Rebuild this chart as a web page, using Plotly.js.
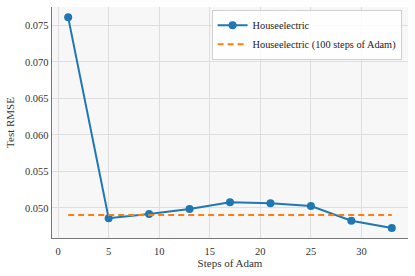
<!DOCTYPE html>
<html>
<head>
<meta charset="utf-8">
<script src="https://cdn.plot.ly/plotly-3.0.1.min.js"></script>
<style>html,body{margin:0;padding:0;background:#fff;}#chart{width:415px;height:276px;}</style>
</head>
<body>
<div id="chart"></div>
<script>
const steps = [1, 5, 9, 13, 17, 21, 25, 29, 33];
const rmse = [0.0761, 0.04859, 0.04918, 0.04986, 0.05078, 0.05064, 0.05027, 0.04826, 0.04726];
const baselineX = [1, 33];
const baselineY = [0.04904, 0.04904];
const seriesNames = ["Houseelectric", "Houseelectric (100 steps of Adam)"];
const xTicks = [0, 5, 10, 15, 20, 25, 30];
const yTicks = [0.050, 0.055, 0.060, 0.065, 0.070, 0.075];

const fam = "Liberation Serif, DejaVu Serif, serif";
const xRange = [-0.6, 34.6];
const yRange = [0.04589, 0.07752];

const traces = [
  {x: steps, y: rmse, name: seriesNames[0], mode: "lines+markers",
   line: {color: "#1f77b4", width: 2}, marker: {color: "#1f77b4", size: 8}},
  {x: baselineX, y: baselineY, name: seriesNames[1], mode: "lines",
   line: {color: "#ff7f0e", width: 2.2, dash: "6px,4px"}}
];

const layout = {
  width: 415, height: 276,
  margin: {l: 52, r: 7, t: 7, b: 38},
  paper_bgcolor: "#ffffff",
  plot_bgcolor: "#f7f7f7",
  font: {family: fam, size: 10.5, color: "#333"},
  showlegend: true,
  legend: {x: 0.982, y: 0.988, xanchor: "right", yanchor: "top",
    bgcolor: "rgba(255,255,255,0.85)", bordercolor: "#d0d0d0", borderwidth: 1,
    font: {family: fam, size: 10.3, color: "#222"}},
  xaxis: {
    range: xRange, tickvals: xTicks, ticktext: xTicks.map(String),
    showgrid: true, gridcolor: "#dedede", gridwidth: 1, zeroline: false,
    showline: true, linecolor: "#777", linewidth: 1.3, mirror: false,
    ticks: "", ticklen: 0, ticklabelstandoff: 3,
    title: {text: "Steps of Adam", font: {family: fam, size: 11, color: "#333"}, standoff: 1}
  },
  yaxis: {
    range: yRange, tickvals: yTicks, ticktext: yTicks.map(v => v.toFixed(3)),
    showgrid: true, gridcolor: "#dedede", gridwidth: 1, zeroline: false,
    showline: true, linecolor: "#777", linewidth: 1.3, mirror: false,
    ticks: "", ticklen: 0,
    title: {text: "Test RMSE", font: {family: fam, size: 11, color: "#333"}, standoff: 8}
  },
  xaxis2: {overlaying: "x", side: "top", range: xRange, showline: true, linecolor: "#a8a8a8",
    linewidth: 1.2, showgrid: false, zeroline: false, showticklabels: false, ticks: ""},
  yaxis2: {overlaying: "y", side: "right", range: yRange, showline: true, linecolor: "#a8a8a8",
    linewidth: 1.2, showgrid: false, zeroline: false, showticklabels: false, ticks: ""}
};

Plotly.newPlot("chart", traces, layout, {displayModeBar: false, staticPlot: true});
</script>
</body>
</html>
